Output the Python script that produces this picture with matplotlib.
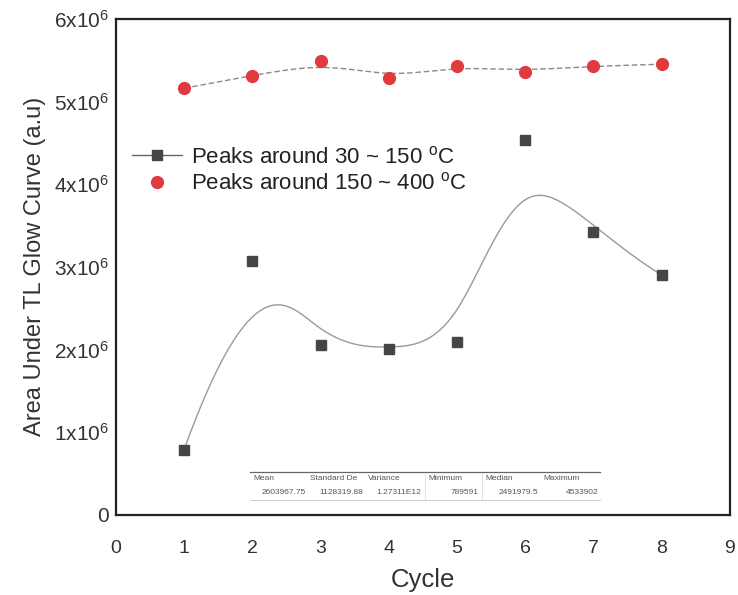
import numpy as np
import matplotlib
matplotlib.use("Agg")
import matplotlib.pyplot as plt
from matplotlib.lines import Line2D

plt.rcParams["font.family"] = ["Liberation Sans", "DejaVu Sans"]
plt.rcParams["mathtext.fontset"] = "custom"
plt.rcParams["mathtext.rm"] = "Liberation Sans"
plt.rcParams["mathtext.it"] = "Liberation Sans"

# data
cycles = [1, 2, 3, 4, 5, 6, 7, 8]
low_peaks = [0.79e6, 3.07e6, 2.06e6, 2.01e6, 2.09e6, 4.53e6, 3.42e6, 2.90e6]
high_peaks = [5.16e6, 5.31e6, 5.49e6, 5.28e6, 5.43e6, 5.36e6, 5.43e6, 5.45e6]

y_ticks = [0, 1e6, 2e6, 3e6, 4e6, 5e6, 6e6]
y_tick_labels = ["0", r"$1\mathrm{x}10^6$", r"$2\mathrm{x}10^6$", r"$3\mathrm{x}10^6$",
                 r"$4\mathrm{x}10^6$", r"$5\mathrm{x}10^6$", r"$6\mathrm{x}10^6$"]
x_ticks = [0, 1, 2, 3, 4, 5, 6, 7, 8, 9]

stats_names = ["Mean", "Standard De", "Variance", "Minimum", "Median", "Maximum"]
stats_values = ["2603967.75", "1128319.88", "1.27311E12", "789591", "2491979.5", "4533902"]


def bspline(xs, ys, k=3, n=400):
    """Clamped B-spline using the points as control points (like Origin's B-spline connect)."""
    P = np.column_stack([xs, ys]).astype(float)
    m = len(P)
    knots = np.concatenate([np.zeros(k), np.arange(m - k + 1), np.full(k, m - k)]).astype(float)
    out = []
    for t in np.linspace(0, m - k, n):
        if t >= knots[-1]:
            out.append(P[-1])
            continue
        j = np.searchsorted(knots, t, side="right") - 1
        d = [P[j - k + i].copy() for i in range(k + 1)]
        for r in range(1, k + 1):
            for i in range(k, r - 1, -1):
                a = (t - knots[i + j - k]) / (knots[i + 1 + j - r] - knots[i + j - k])
                d[i] = (1 - a) * d[i - 1] + a * d[i]
        out.append(d[k])
    out = np.array(out)
    return out[:, 0], out[:, 1]


fig = plt.figure(figsize=(7.38, 5.95), dpi=100)
ax = fig.add_axes([0.157, 0.1345, 0.832, 0.834])

bx, by = bspline(cycles, low_peaks)
ax.plot(bx, by, color="#9a9a9a", lw=1.0, zorder=2)
rx, ry = bspline(cycles, high_peaks)
ax.plot(rx, ry, color="#8a8a8a", lw=1.0, ls=(0, (4, 2)), zorder=2)

ax.plot(cycles, low_peaks, ls="none", marker="s", ms=7.5, color="#454545", zorder=3)
ax.plot(cycles, high_peaks, ls="none", marker="o", ms=8.5, color="#e03a3e", zorder=3)

ax.set_xlim(0, 9)
ax.set_ylim(0, 6e6)
ax.set_xticks(x_ticks)
ax.set_yticks(y_ticks)
ax.set_yticklabels(y_tick_labels)
ax.tick_params(length=0, colors="#333333")
ax.tick_params(axis="x", pad=18, labelsize=14)
ax.tick_params(axis="y", pad=5, labelsize=15)
for s in ax.spines.values():
    s.set_linewidth(1.6)
    s.set_color("#222222")

ax.set_xlabel("Cycle", fontsize=18.5, color="#333333", labelpad=8)
ax.set_ylabel("Area Under TL Glow Curve (a.u)", fontsize=17, color="#333333", labelpad=6)

handles = [
    Line2D([], [], color="#666666", lw=1.0, marker="s", ms=7.5, mfc="#454545", mec="#454545"),
    Line2D([], [], ls="none", marker="o", ms=8.5, color="#e03a3e"),
]
labels = [r"Peaks around 30 ~ 150 $^{\mathrm{o}}$C", r"Peaks around 150 ~ 400 $^{\mathrm{o}}$C"]
fig.legend(handles, labels, loc="upper left", bbox_to_anchor=(0.173, 0.762), frameon=False,
           fontsize=16, handlelength=2.25, handletextpad=0.4, labelspacing=0.2,
           labelcolor="#222222", borderaxespad=0, borderpad=0.2)

# small statistics table inside the plot
def fx(px):
    return px / 738.0


def fy(py):
    return 1 - py / 595.0


fig.add_artist(Line2D([fx(250), fx(600)], [fy(472), fy(472)], color="#666666", lw=0.9))
fig.add_artist(Line2D([fx(250), fx(600)], [fy(500), fy(500)], color="#cccccc", lw=0.7))
for sx in [425, 482]:
    fig.add_artist(Line2D([fx(sx), fx(sx)], [fy(473), fy(499)], color="#dddddd", lw=0.6))
col_left = [253, 310, 368, 428, 485, 543]
col_right = [306, 363, 421, 479, 538, 598]
for name, val, xl, xr in zip(stats_names, stats_values, col_left, col_right):
    fig.text(fx(xl), fy(479), name, fontsize=6, color="#555555", va="center", ha="left")
    fig.text(fx(xr), fy(492), val, fontsize=6, color="#555555", va="center", ha="right")

fig.savefig("out.png", dpi=100)
